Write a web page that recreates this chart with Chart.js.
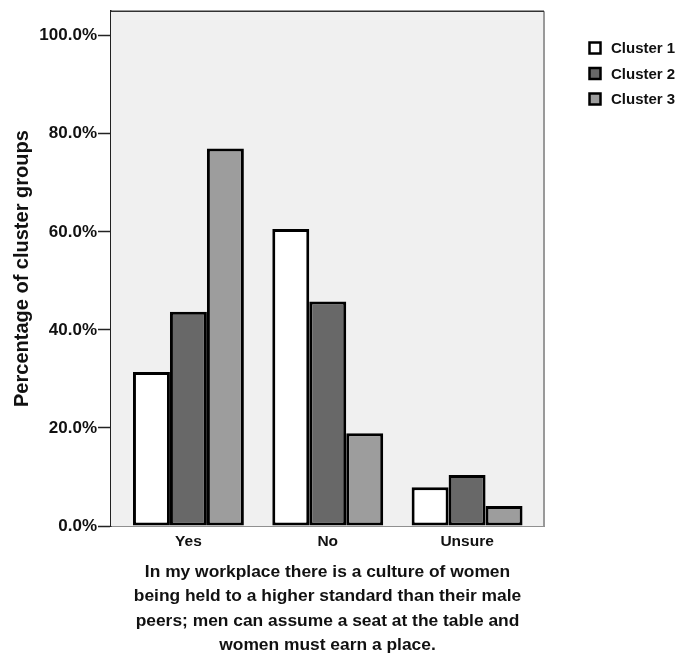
<!DOCTYPE html>
<html>
<head>
<meta charset="utf-8">
<script src="https://cdn.jsdelivr.net/npm/chart.js@4/dist/chart.umd.min.js"></script>
<style>
	html, body { margin: 0; padding: 0; background: #fff; }
	#wrap { width: 681px; height: 655px; position: relative; }
</style>
</head>
<body>
<div id="wrap"><canvas id="chart-clusters"></canvas></div>
<script>
// Chart data
const CATEGORIES = ["Yes", "No", "Unsure"];
const SERIES_LABELS = ["Cluster 1", "Cluster 2", "Cluster 3"];
const CLUSTER_1 = [31.4, 60.6, 7.9];
const CLUSTER_2 = [43.7, 45.8, 10.4];
const CLUSTER_3 = [77.0, 18.9, 4.1];
const Y_TICKS = [0, 20, 40, 60, 80, 100];
const X_TITLE = [
	"In my workplace there is a culture of women",
	"being held to a higher standard than their male",
	"peers; men can assume a seat at the table and",
	"women must earn a place.",
];
const Y_TITLE = "Percentage of cluster groups";

const FILLS = ["#ffffff", "#686868", "#9d9d9d"];
const FONT = "'Liberation Sans', Arial, sans-serif";
const INK = "#111111";

// plot background + frame
const plotFrame = {
	id: "plotFrame",
	// extra inner margin on the category axis (SPSS style)
	afterLayout(chart) {
		const x = chart.scales.x;
		x._startPixel += 7.75;
		x._endPixel -= 7.25;
		x._length = x._endPixel - x._startPixel;
	},
	beforeDatasetsDraw(chart) {
		const { ctx, chartArea: a } = chart;
		ctx.save();
		ctx.fillStyle = "#f0f0f0";
		ctx.fillRect(a.left, a.top, a.right - a.left, a.bottom - a.top);
		ctx.lineWidth = 2;
		ctx.strokeStyle = "#999999";
		ctx.beginPath();
		ctx.moveTo(a.right, a.top);
		ctx.lineTo(a.right, a.bottom);
		ctx.stroke();
		ctx.lineWidth = 1.5;
		ctx.strokeStyle = "#333333";
		ctx.beginPath();
		ctx.moveTo(a.left, a.top);
		ctx.lineTo(a.right, a.top);
		ctx.stroke();
		ctx.restore();
	},
};

// legend in the right margin
const sideLegend = {
	id: "sideLegend",
	afterDraw(chart) {
		const { ctx } = chart;
		ctx.save();
		ctx.font = "bold 15px " + FONT;
		ctx.textBaseline = "middle";
		ctx.textAlign = "left";
		chart.data.datasets.forEach((ds, i) => {
			const cy = 48 + i * 25.5;
			ctx.fillStyle = ds.backgroundColor;
			ctx.fillRect(589.5, cy - 5.5, 11, 11);
			ctx.lineWidth = 2.5;
			ctx.strokeStyle = "#000";
			ctx.strokeRect(589.5, cy - 5.5, 11, 11);
			ctx.fillStyle = INK;
			ctx.fillText(ds.label, 611, cy + 1);
		});
		ctx.restore();
	},
};

const CHART_DATA = {
	labels: CATEGORIES,
	datasets: [CLUSTER_1, CLUSTER_2, CLUSTER_3].map((vals, i) => ({
		label: SERIES_LABELS[i],
		data: vals,
		backgroundColor: FILLS[i],
		borderColor: "#000000",
		borderWidth: 3,
		borderSkipped: false,
		categoryPercentage: 0.796,
		barPercentage: 1.0,
	})),
};

const CHART_CONFIG = {
	type: "bar",
	data: CHART_DATA,
	plugins: [plotFrame, sideLegend],
	options: {
		responsive: false,
		animation: false,
		events: [],
		layout: {
			padding: { top: 10, right: 137, left: 0, bottom: 0 },
		},
		scales: {
			x: {
				afterFit: (scale) => { scale.height = 129; },
				grid: { display: true, drawOnChartArea: false, drawTicks: false },
				border: { display: true, color: "#222222", width: 1.5 },
				ticks: {
					color: INK,
					padding: 6,
					font: { family: FONT, size: 15.5, weight: "bold" },
				},
				title: {
					display: true,
					text: X_TITLE,
					color: INK,
					padding: { top: 0, bottom: -2 },
					font: { family: FONT, size: 17.4, weight: "bold", lineHeight: 1.39 },
				},
			},
			y: {
				min: 0,
				max: 105,
				afterFit: (scale) => { scale.width = 111; },
				afterBuildTicks: (scale) => {
					scale.ticks = Y_TICKS.map((v) => ({ value: v }));
				},
				grid: { drawOnChartArea: false, drawTicks: true, tickLength: 13, color: "#222222", tickWidth: 1.5 },
				border: { display: true, color: "#222222", width: 1.5 },
				ticks: {
					color: INK,
					padding: 1,
					font: { family: FONT, size: 17, weight: "bold" },
					callback: (v) => v.toFixed(1) + "%",
				},
				title: {
					display: true,
					text: Y_TITLE,
					color: INK,
					padding: { top: 10, bottom: 0 },
					font: { family: FONT, size: 20, weight: "bold", lineHeight: 1.2 },
				},
			},
		},
		plugins: {
			legend: { display: false },
			tooltip: { enabled: false },
		},
	},
};

const canvas = document.getElementById("chart-clusters");
canvas.width = 681;
canvas.height = 655;
new Chart(canvas, CHART_CONFIG);
</script>
</body>
</html>
